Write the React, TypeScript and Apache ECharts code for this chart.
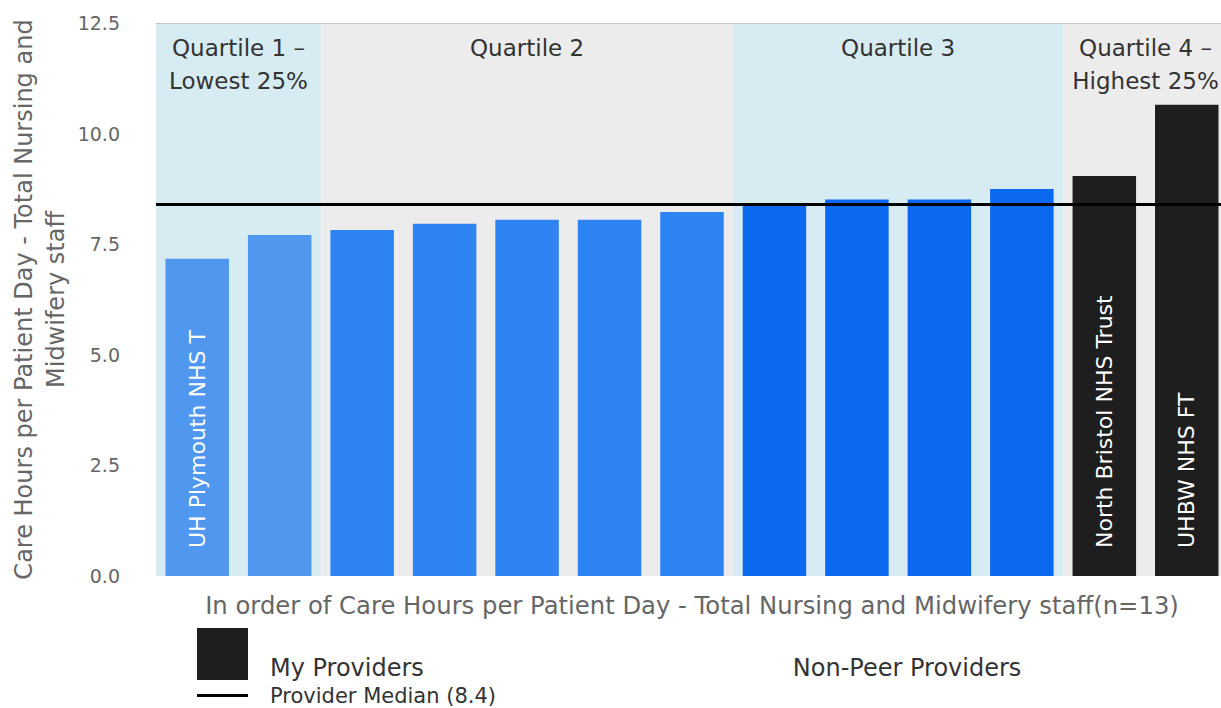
import React, { useEffect, useRef } from "react";
import * as echarts from "echarts";

// Providers ranked by care hours per patient day (ascending)
const ranks = ["1", "2", "3", "4", "5", "6", "7", "8", "9", "10", "11", "12", "13"];
const providerLabels = [
  "UH Plymouth NHS T", "", "", "", "", "", "", "", "", "", "",
  "North Bristol NHS Trust", "UHBW NHS FT",
];
const careHours = [7.17, 7.71, 7.82, 7.96, 8.05, 8.05, 8.23, 8.39, 8.51, 8.51, 8.75, 9.04, 10.65];
const isMyProvider = [false, false, false, false, false, false, false, false, false, false, false, true, true];
const quartileOf = [1, 1, 2, 2, 2, 2, 2, 3, 3, 3, 3, 4, 4];
const quartileNames = ["Quartile 1 –\nLowest 25%", "Quartile 2", "Quartile 3", "Quartile 4 –\nHighest 25%"];
const providerMedian = 8.4;
const yMin = 0;
const yMax = 12.5;
const yStep = 2.5;

const quartileBarColors = ["#5097ef", "#2e83f3", "#0b69ef"];
const myProviderColor = "#1e1e1e";
const quartileBandColors = ["#d7ebf2", "#ececec", "#d7ebf2", "#ececec"];

const FONT = "DejaVu Sans";
const xTitle = `In order of Care Hours per Patient Day - Total Nursing and Midwifery staff(n=${ranks.length})`;
const yTitle = "Care Hours per Patient Day - Total Nursing and\nMidwifery staff";
const medianName = `Provider Median (${providerMedian.toFixed(1)})`;

function quartileBands() {
  return quartileNames.map((name, q) => {
    const idx = quartileOf.map((v, i) => (v === q + 1 ? i : -1)).filter((i) => i >= 0);
    const from = Math.min(...idx) - 0.5;
    const to = Math.max(...idx) + 0.5;
    return [
      { xAxis: from, name, itemStyle: { color: quartileBandColors[q] } },
      { xAxis: to },
    ];
  });
}

const barLabel = {
  show: true,
  position: "insideBottom",
  rotate: 90,
  align: "left",
  verticalAlign: "middle",
  distance: 28,
  color: "#ffffff",
  fontSize: 22,
  fontFamily: FONT,
  formatter: (p: any) => providerLabels[p.dataIndex] || "",
};

export default function App() {
  const ref = useRef<HTMLDivElement>(null);

  useEffect(() => {
    document.body.style.margin = "0";
    if (!ref.current) return;
    const chart = echarts.init(ref.current, undefined, { renderer: "svg" });

    chart.setOption({
      animation: false,
      textStyle: { fontFamily: FONT },
      grid: {
        left: 156,
        right: -7,
        top: 23,
        bottom: 132,
        containLabel: false,
        outerBoundsMode: "none",
      },
      legend: [
        {
          left: 197,
          top: 628,
          padding: 0,
          itemWidth: 51,
          itemHeight: 52,
          itemGap: 296,
          selectedMode: false,
          data: [
            { name: "My Providers", icon: "rect" },
            { name: "Non-Peer Providers", icon: "rect", itemStyle: { opacity: 0 } },
          ],
          formatter: (name: string) => `{t|${name}}`,
          textStyle: {
            fontSize: 24,
            color: "#333",
            fontFamily: FONT,
            rich: {
              t: { fontSize: 24, color: "#333", fontFamily: FONT, padding: [28, 0, 0, 17] },
            },
          },
        },
        {
          left: 197,
          top: 685,
          padding: 0,
          itemWidth: 51,
          itemHeight: 3,
          selectedMode: false,
          data: [{ name: medianName, icon: "rect", itemStyle: { color: "#000000" } }],
          textStyle: { fontSize: 21, color: "#333", fontFamily: FONT, padding: [0, 0, 0, 17] },
        },
      ],
      xAxis: [
        {
          type: "category",
          data: ranks,
          axisLine: { show: false },
          axisTick: { show: false },
          axisLabel: { show: false },
          name: xTitle,
          nameLocation: "middle",
          nameGap: 17,
          nameTextStyle: { fontSize: 24.3, color: "#666", fontFamily: FONT },
        },
        {
          type: "value",
          position: "top",
          min: -0.5,
          max: ranks.length - 0.5,
          z: 5,
          axisLine: { show: true, lineStyle: { color: "#c4c4c4", width: 1 } },
          axisTick: { show: false },
          axisLabel: { show: false },
          splitLine: { show: false },
        },
      ],
      yAxis: {
        type: "value",
        min: yMin,
        max: yMax,
        interval: yStep,
        splitLine: { show: false },
        axisLine: { show: false },
        axisTick: { show: false },
        axisLabel: {
          formatter: (v: number) => v.toFixed(1),
          color: "#666",
          fontSize: 19,
          margin: 36,
          fontFamily: FONT,
        },
        name: yTitle,
        nameLocation: "middle",
        nameGap: 84,
        nameMoveOverlap: false,
        nameTextStyle: { fontSize: 24, lineHeight: 32, color: "#666", align: "center", fontFamily: FONT },
      },
      series: [
        {
          name: "Non-Peer Providers",
          type: "bar",
          barGap: "-100%",
          barCategoryGap: "23%",
          data: careHours.map((v, i) =>
            isMyProvider[i]
              ? "-"
              : { value: v, itemStyle: { color: quartileBarColors[quartileOf[i] - 1] } }
          ),
          itemStyle: { color: quartileBarColors[1] },
          label: barLabel,
        },
        {
          name: "My Providers",
          type: "bar",
          barGap: "-100%",
          barCategoryGap: "23%",
          data: careHours.map((v, i) => (isMyProvider[i] ? v : "-")),
          itemStyle: { color: myProviderColor },
          label: barLabel,
        },
        {
          name: medianName,
          type: "line",
          xAxisIndex: 1,
          symbol: "none",
          data: [
            [-0.5, providerMedian],
            [ranks.length - 0.5, providerMedian],
          ],
          lineStyle: { color: "#000000", width: 3 },
          itemStyle: { color: "#000000" },
          markArea: {
            silent: true,
            label: {
              show: true,
              position: "insideTop",
              distance: 8,
              color: "#333",
              fontSize: 23,
              lineHeight: 33,
              align: "center",
              fontFamily: FONT,
            },
            data: quartileBands(),
          },
        },
      ],
    });

    return () => chart.dispose();
  }, []);

  return <div ref={ref} style={{ width: 1221, height: 708 }} />;
}
